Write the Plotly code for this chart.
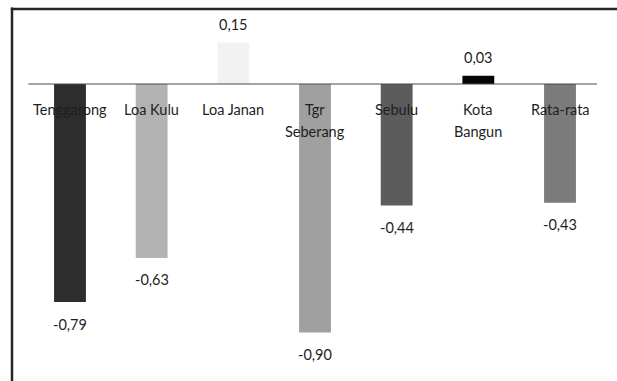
import plotly.graph_objects as go

# Kecamatan and their values
categories = ["Tenggarong", "Loa Kulu", "Loa Janan", "Tgr<br>Seberang", "Sebulu", "Kota<br>Bangun", "Rata-rata"]
values = [-0.79, -0.63, 0.15, -0.90, -0.44, 0.03, -0.43]
bar_colors = ["#2d2d2d", "#b3b3b3", "#f2f2f2", "#a0a0a0", "#5c5c5c", "#050505", "#7b7b7b"]

FONT = "Lato"
TEXT_COLOR = "#1e1e1e"
FRAME_COLOR = "#2b2424"

x_idx = list(range(len(categories)))

fig = go.Figure()
fig.add_trace(go.Bar(
    x=x_idx,
    y=values,
    width=0.39,
    marker=dict(color=bar_colors, line=dict(width=0)),
    hoverinfo="skip",
    cliponaxis=False,
))

annotations = []
# value labels (comma decimal)
for i, v in enumerate(values):
    txt = f"{v:.2f}".replace(".", ",")
    annotations.append(dict(
        x=i, y=v, xref="x", yref="y", text=txt, showarrow=False,
        yanchor="middle", xanchor="center",
        yshift=18 if v >= 0 else -22,
        font=dict(family=FONT, size=14.5, color=TEXT_COLOR),
    ))
# category labels below the zero line, one annotation per line of text
for i, c in enumerate(categories):
    for j, line in enumerate(c.split("<br>")):
        annotations.append(dict(
            x=i, y=0, xref="x", yref="y", text=line, showarrow=False,
            yanchor="middle", xanchor="center",
            yshift=-25 - 22 * j,
            font=dict(family=FONT, size=14.5, color=TEXT_COLOR),
        ))

shapes = [
    # zero line
    dict(type="line", xref="x", yref="y", x0=-0.51, x1=6.48, y0=0, y1=0,
         line=dict(color="#4a4a4a", width=1), layer="above"),
    # frame: left and top edges
    dict(type="line", xref="paper", yref="paper", x0=0, x1=0, y0=-0.01, y1=1.004,
         line=dict(color=FRAME_COLOR, width=2.5), layer="above"),
    dict(type="line", xref="paper", yref="paper", x0=-0.002, x1=1.04, y0=1, y1=1,
         line=dict(color=FRAME_COLOR, width=2.5), layer="above"),
]

fig.update_layout(
    width=617, height=381,
    margin=dict(l=12, r=20, t=9, b=0),
    paper_bgcolor="white", plot_bgcolor="white",
    showlegend=False,
    annotations=annotations,
    shapes=shapes,
    xaxis=dict(
        range=[-0.71, 6.453],
        showline=False, showticklabels=False, ticks="", showgrid=False, zeroline=False,
        fixedrange=True,
    ),
    yaxis=dict(
        range=[-1.076, 0.2717],
        showline=False, showticklabels=False, ticks="", showgrid=False, zeroline=False,
        fixedrange=True,
    ),
)

fig.write_html(
    "out.html",
    config={"displayModeBar": False},
    post_script="document.documentElement.style.overflow='hidden';"
                "document.body.style.overflow='hidden';document.body.style.margin='0';",
)
